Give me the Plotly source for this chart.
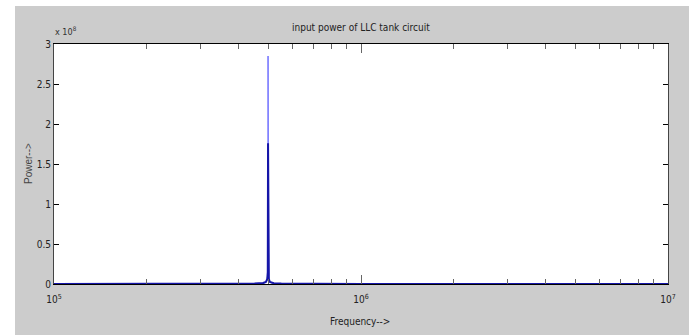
import plotly.graph_objects as go

# Coarse frequency sweep (Hz) and input power (W)
freq_coarse = [1e5, 2e5, 3e5, 4e5, 4.5e5, 4.8e5, 4.9e5, 4.95e5, 4.97e5, 4.98e5,
               4.99e5, 5.01e5, 5.05e5, 5.2e5, 5.5e5, 6e5, 7e5, 1e6, 2e6, 4e6, 7e6, 1e7]
power_coarse = [0, 0.05e6, 0.1e6, 0.3e6, 0.6e6, 1.2e6, 2.5e6, 6e6, 15e6, 176e6,
                15e6, 6e6, 2.5e6, 1.0e6, 0.5e6, 0.3e6, 0.2e6, 0.1e6, 0.03e6, 0.01e6, 0, 0]

# Fine sweep around resonance
freq_fine = [4.70e5, 4.80e5, 4.88e5, 4.93e5, 4.96e5, 4.97e5, 4.975e5, 4.98e5,
             4.985e5, 4.99e5, 5.00e5, 5.03e5, 5.08e5, 5.16e5, 5.28e5]
power_fine = [0.4e6, 0.8e6, 1.5e6, 3.5e6, 9e6, 20e6, 50e6, 285e6,
              50e6, 20e6, 9e6, 3.5e6, 1.5e6, 0.8e6, 0.4e6]

y_tickvals = [0, 0.5e8, 1e8, 1.5e8, 2e8, 2.5e8, 3e8]
y_ticktext = ["0", "0.5", "1", "1.5", "2", "2.5", "3"]
x_tickvals = [1e5, 1e6, 1e7]
x_ticktext = ["10<sup>5</sup>", "10<sup>6</sup>", "10<sup>7</sup>"]
x_minor = [2e5, 3e5, 4e5, 5e5, 6e5, 7e5, 8e5, 9e5,
           2e6, 3e6, 4e6, 5e6, 6e6, 7e6, 8e6, 9e6]

FONT = "DejaVu Sans Condensed, Liberation Sans Narrow, Liberation Sans, Arial, sans-serif"

W, H = 689, 335
L, R, T, B = 54, 668, 44, 284
pw, ph = R - L, B - T

def px(x):
    return (x - L) / pw

def py(y):
    return (B - y) / ph

fig = go.Figure()
fig.add_trace(go.Scatter(x=freq_fine, y=power_fine, mode="lines",
                         line=dict(color="#6e6eff", width=1), showlegend=False))
fig.add_trace(go.Scatter(x=freq_coarse, y=power_coarse, mode="lines",
                         line=dict(color="#1515a8", width=2), showlegend=False))

fig.update_layout(
    width=W, height=H,
    margin=dict(l=L, r=W - R, t=T, b=H - B, pad=0),
    paper_bgcolor="white",
    plot_bgcolor="white",
    font=dict(family=FONT, size=10, color="#222"),
    shapes=[
        dict(type="rect", xref="paper", yref="paper", layer="below",
             x0=px(15), x1=px(689), y0=py(335), y1=py(6),
             fillcolor="#cccccc", line=dict(width=0)),
        dict(type="rect", xref="paper", yref="paper", layer="below",
             x0=0, x1=1, y0=0, y1=1,
             fillcolor="white", line=dict(width=0)),
    ],
    annotations=[
        dict(text="input power of LLC tank circuit", xref="paper", yref="paper",
             x=px(361), y=py(27), xanchor="center", yanchor="middle", showarrow=False,
             font=dict(size=10, color="#222")),
        dict(text="Frequency-->", xref="paper", yref="paper",
             x=px(360), y=py(321), xanchor="center", yanchor="middle", showarrow=False,
             font=dict(size=10, color="#222")),
        dict(text="Power-->", xref="paper", yref="paper", textangle=-90,
             x=px(28), y=py(164), xanchor="center", yanchor="middle", showarrow=False,
             font=dict(family="Liberation Sans, Arial, sans-serif", size=10, color="#444")),
        dict(text="x 10<sup>8</sup>", xref="paper", yref="paper",
             x=px(53), y=py(31), xanchor="left", yanchor="middle", showarrow=False,
             font=dict(size=9, color="#333")),
    ],
)

fig.update_xaxes(
    type="log", range=[5, 7],
    tickmode="array", tickvals=x_tickvals, ticktext=x_ticktext,
    ticks="inside", ticklen=9, tickcolor="#666", tickwidth=1,
    minor=dict(tickmode="array", tickvals=x_minor, ticks="inside",
               ticklen=5, tickcolor="#666", showgrid=False),
    showline=True, linecolor="black", linewidth=1, mirror="ticks",
    showgrid=False, zeroline=False,
    ticklabelstandoff=6,
)
fig.update_yaxes(
    range=[0, 3e8],
    tickmode="array", tickvals=y_tickvals, ticktext=y_ticktext,
    ticks="inside", ticklen=5, tickcolor="black", tickwidth=1,
    showline=True, linecolor="#444", linewidth=1, mirror="ticks",
    showgrid=False, zeroline=False,
    ticklabelstandoff=0,
)

fig.write_html("out.html")
